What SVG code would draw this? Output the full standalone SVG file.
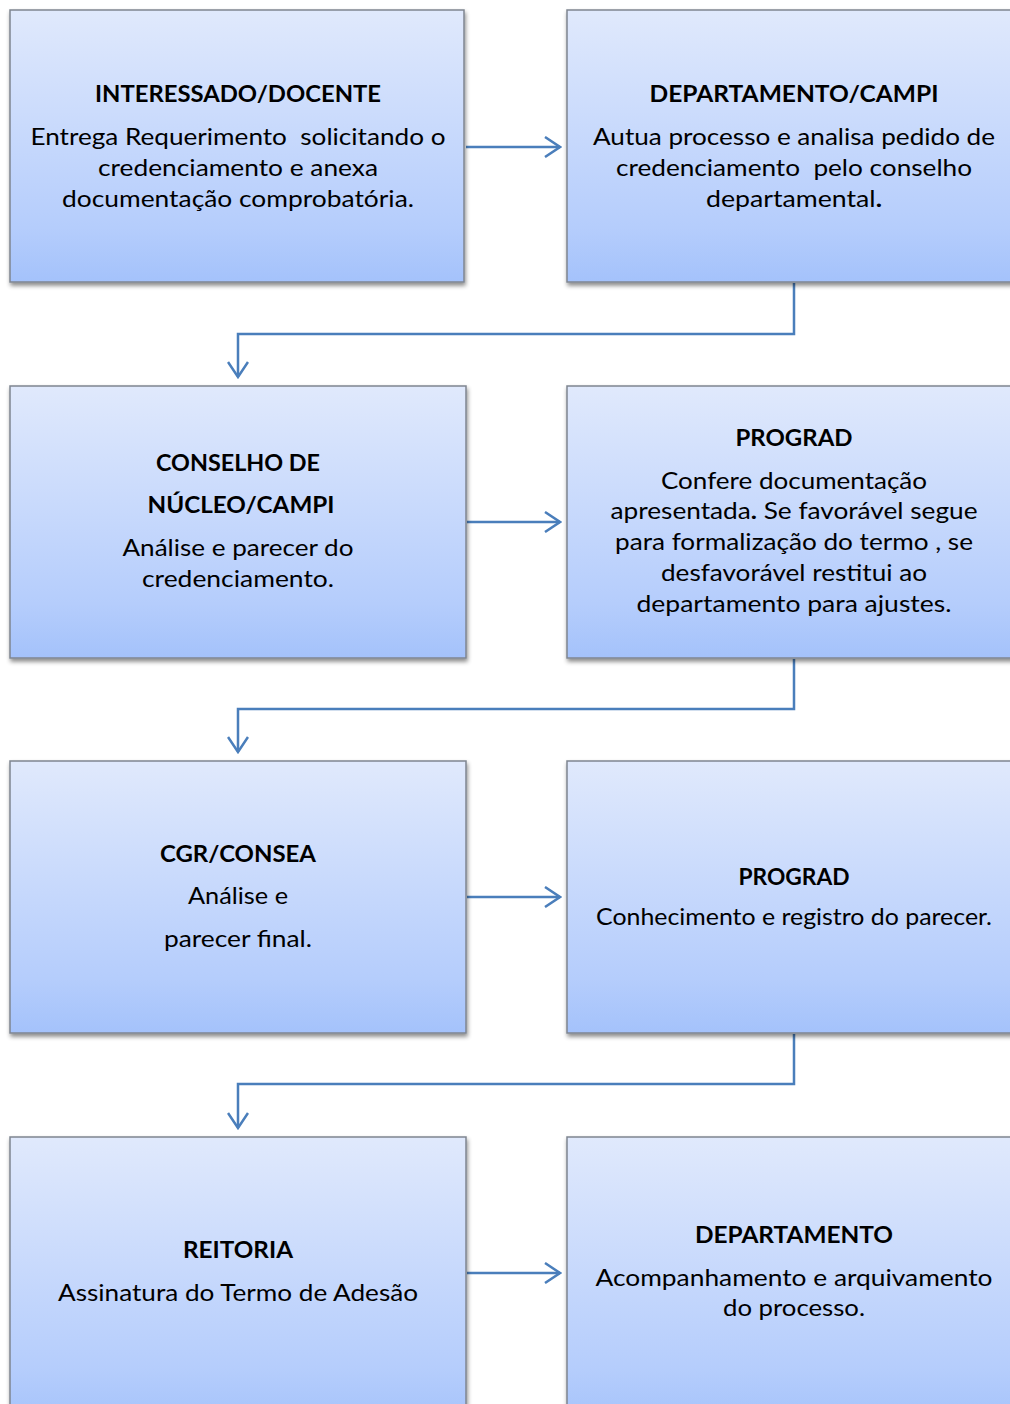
<svg xmlns="http://www.w3.org/2000/svg" width="1010" height="1404" viewBox="0 0 1010 1404">
<defs>
<linearGradient id="g" x1="0" y1="0" x2="0" y2="1">
<stop offset="0" stop-color="#e0e9fc"/>
<stop offset="0.8" stop-color="#b5cdfc"/>
<stop offset="1" stop-color="#a4c2fb"/>
</linearGradient>
<filter id="sh" x="-5%" y="-5%" width="110%" height="115%">
<feDropShadow dx="1" dy="3" stdDeviation="2" flood-color="#000" flood-opacity="0.45"/>
</filter>
<marker id="ah" viewBox="0 0 18 22" refX="16" refY="11" markerWidth="18" markerHeight="22" markerUnits="userSpaceOnUse" orient="auto">
<path d="M1,1 L16,11 L1,21" fill="none" stroke="#4a7ebb" stroke-width="2.5"/>
</marker>
<style>
.box{fill:url(#g);stroke:#7f8590;stroke-width:1.5;filter:url(#sh)}
.t{font-family:Lato,"Open Sans","Liberation Sans",sans-serif;font-size:23px;fill:#000;text-anchor:middle;white-space:pre}
.b{font-weight:bold}
.c{fill:none;stroke:#4a7ebb;stroke-width:2.5}
</style>
</defs>
<rect width="1010" height="1404" fill="#fff"/>
<g id="connectors">
<path class="c" d="M466,147 H560" marker-end="url(#ah)"/>
<path class="c" d="M794,283 V334 H238 V377" marker-end="url(#ah)"/>
<path class="c" d="M467,522 H560" marker-end="url(#ah)"/>
<path class="c" d="M794,659 V709 H238 V752" marker-end="url(#ah)"/>
<path class="c" d="M467,897 H560" marker-end="url(#ah)"/>
<path class="c" d="M794,1034 V1084 H238 V1128" marker-end="url(#ah)"/>
<path class="c" d="M467,1273 H560" marker-end="url(#ah)"/>
</g>
<g id="n1">
<rect class="box" x="10" y="10" width="454" height="272"/>
<text class="t b" x="238" y="102" textLength="286" lengthAdjust="spacingAndGlyphs">INTERESSADO/DOCENTE</text>
<text class="t" x="238" y="145" textLength="415" lengthAdjust="spacingAndGlyphs" xml:space="preserve">Entrega Requerimento  solicitando o</text>
<text class="t" x="238" y="176" textLength="280" lengthAdjust="spacingAndGlyphs">credenciamento e anexa</text>
<text class="t" x="238" y="207" textLength="352" lengthAdjust="spacingAndGlyphs">documentação comprobatória.</text>
</g>
<g id="n2">
<rect class="box" x="567" y="10" width="460" height="272"/>
<text class="t b" x="794" y="102" textLength="289" lengthAdjust="spacingAndGlyphs">DEPARTAMENTO/CAMPI</text>
<text class="t" x="794" y="145" textLength="402" lengthAdjust="spacingAndGlyphs">Autua processo e analisa pedido de</text>
<text class="t" x="794" y="176" textLength="356" lengthAdjust="spacingAndGlyphs" xml:space="preserve">credenciamento  pelo conselho</text>
<text class="t" x="794" y="207" textLength="176" lengthAdjust="spacingAndGlyphs">departamental<tspan class="b">.</tspan></text>
</g>
<g id="n3">
<rect class="box" x="10" y="386" width="456" height="272"/>
<text class="t b" x="238" y="471" textLength="164" lengthAdjust="spacingAndGlyphs">CONSELHO DE</text>
<text class="t b" x="241" y="513" textLength="187" lengthAdjust="spacingAndGlyphs">NÚCLEO/CAMPI</text>
<text class="t" x="238" y="556" textLength="231" lengthAdjust="spacingAndGlyphs">Análise e parecer do</text>
<text class="t" x="238" y="587" textLength="192" lengthAdjust="spacingAndGlyphs">credenciamento.</text>
</g>
<g id="n4">
<rect class="box" x="567" y="386" width="460" height="272"/>
<text class="t b" x="794" y="446" textLength="117" lengthAdjust="spacingAndGlyphs">PROGRAD</text>
<text class="t" x="794" y="489" textLength="266" lengthAdjust="spacingAndGlyphs">Confere documentação</text>
<text class="t" x="794" y="519" textLength="367" lengthAdjust="spacingAndGlyphs">apresentada<tspan class="b">.</tspan> Se favorável segue</text>
<text class="t" x="794" y="550" textLength="358" lengthAdjust="spacingAndGlyphs">para formalização do termo , se</text>
<text class="t" x="794" y="581" textLength="266" lengthAdjust="spacingAndGlyphs">desfavorável restitui ao</text>
<text class="t" x="794" y="612" textLength="315" lengthAdjust="spacingAndGlyphs">departamento para ajustes.</text>
</g>
<g id="n5">
<rect class="box" x="10" y="761" width="456" height="272"/>
<text class="t b" x="238" y="862" textLength="156" lengthAdjust="spacingAndGlyphs">CGR/CONSEA</text>
<text class="t" x="238" y="904" textLength="100" lengthAdjust="spacingAndGlyphs">Análise e</text>
<text class="t" x="238" y="947" textLength="148" lengthAdjust="spacingAndGlyphs">parecer final.</text>
</g>
<g id="n6">
<rect class="box" x="567" y="761" width="460" height="272"/>
<text class="t b" x="794" y="885" textLength="111" lengthAdjust="spacingAndGlyphs">PROGRAD</text>
<text class="t" x="794" y="925" textLength="396" lengthAdjust="spacingAndGlyphs">Conhecimento e registro do parecer.</text>
</g>
<g id="n7">
<rect class="box" x="10" y="1137" width="456" height="290"/>
<text class="t b" x="238" y="1258" textLength="110" lengthAdjust="spacingAndGlyphs">REITORIA</text>
<text class="t" x="238" y="1301" textLength="360" lengthAdjust="spacingAndGlyphs">Assinatura do Termo de Adesão</text>
</g>
<g id="n8">
<rect class="box" x="567" y="1137" width="460" height="290"/>
<text class="t b" x="794" y="1243" textLength="198" lengthAdjust="spacingAndGlyphs">DEPARTAMENTO</text>
<text class="t" x="794" y="1286" textLength="397" lengthAdjust="spacingAndGlyphs">Acompanhamento e arquivamento</text>
<text class="t" x="794" y="1316" textLength="142" lengthAdjust="spacingAndGlyphs">do processo.</text>
</g>
</svg>
